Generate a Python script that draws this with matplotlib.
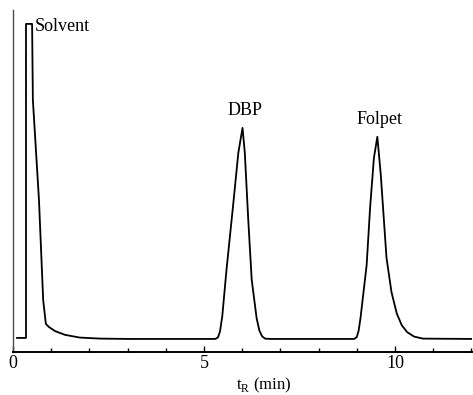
import matplotlib
matplotlib.use("Agg")
import matplotlib.pyplot as plt
from matplotlib.ticker import MultipleLocator

plt.rcParams['font.family'] = ['Liberation Serif', 'DejaVu Serif']
plt.rcParams['mathtext.fontset'] = 'custom'
plt.rcParams['mathtext.rm'] = 'Liberation Serif'

# retention time (min) and detector response (relative)
solvent_t = [0.105, 0.34, 0.34, 0.50, 0.52, 0.68, 0.79, 0.86, 0.94, 1.10, 1.36, 1.75, 2.28, 3.06]
solvent_y = [4.1, 4.1, 95.9, 95.9, 73.7, 44.4, 15.2, 8.2, 7.3, 6.1, 5.0, 4.2, 3.9, 3.8]

dbp_t = [5.30, 5.37, 5.42, 5.48, 5.59, 5.77, 5.90, 6.01, 6.07, 6.16, 6.25, 6.38, 6.45, 6.52, 6.60, 6.73]
dbp_y = [3.8, 4.3, 6.0, 10.5, 24.0, 43.6, 58.2, 65.5, 58.2, 38.6, 21.1, 9.8, 6.3, 4.6, 3.9, 3.8]

folpet_t = [8.93, 9.00, 9.05, 9.10, 9.26, 9.35, 9.45, 9.54, 9.63, 9.78, 9.91, 10.05, 10.18, 10.32, 10.50, 10.73, 12.02]
folpet_y = [3.8, 4.3, 6.2, 10.0, 25.4, 42.1, 56.7, 62.9, 51.8, 27.5, 17.5, 11.2, 7.8, 5.8, 4.5, 3.9, 3.8]

peak_names = ["Solvent", "DBP", "Folpet"]
label_t = [0.58, 6.07, 9.59]
label_y = [93.9, 69.3, 66.7]
label_ha = ["left", "center", "center"]

x_ticks = [0, 5, 10]

t = solvent_t + dbp_t + folpet_t
y = solvent_y + dbp_y + folpet_y

fig = plt.figure(figsize=(4.73, 3.95), dpi=100)
ax = fig.add_axes([0.0275, 0.109, 0.9705, 0.866])
ax.plot(t, y, color='black', lw=1.3, solid_joinstyle='round')

for name, xt, yt, ha in zip(peak_names, label_t, label_y, label_ha):
    ax.text(xt, yt, name, ha=ha, va='baseline', fontsize=13)

ax.set_xlim(0, 12.02)
ax.set_ylim(0, 100)
ax.set_xticks(x_ticks)
ax.xaxis.set_minor_locator(MultipleLocator(1))
ax.tick_params(axis='x', which='major', direction='in', length=4, width=1, pad=2, labelsize=13)
ax.tick_params(axis='x', which='minor', direction='in', length=3, width=1)
ax.set_yticks([])
ax.spines['top'].set_visible(False)
ax.spines['right'].set_visible(False)
ax.spines['bottom'].set_linewidth(1.4)
ax.spines['left'].set_linewidth(1.0)
ax.spines['left'].set_color('0.3')

ax.text(6.57, -9.8, r't$_{\rm R}$ (min)', ha='center', va='center', fontsize=12, clip_on=False)

fig.savefig("out.png", dpi=100)
